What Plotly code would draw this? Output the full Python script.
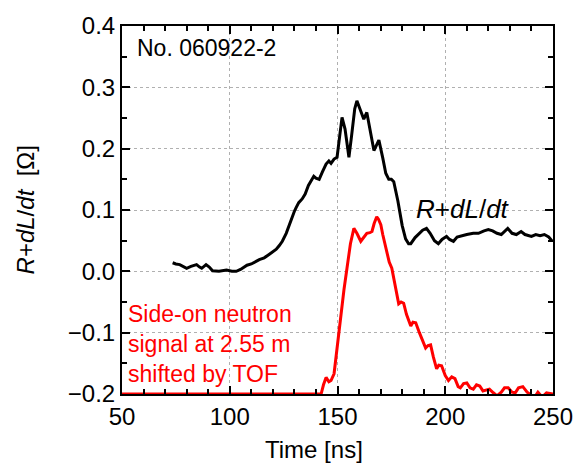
import plotly.graph_objects as go

# Black trace: R + dL/dt [Ohm] vs time [ns]
t_black = [73.5, 75, 76.8, 78, 80, 82, 84.6, 86, 87, 89, 90.5, 92, 95, 98.5, 101, 103, 105, 108, 110,
           113.7, 116, 118.4, 121.6, 123, 124.4, 126.2, 128, 130, 130.8, 132, 133.6, 135, 136.5, 137.8,
           139, 140, 141.5, 143, 144.7, 146, 147, 148.4, 149.8, 151, 152.1, 153.5, 155.3, 156.5, 158,
           159, 160.5, 162.2, 163.6, 165, 166.9, 168, 169.2, 171, 172.4, 173.8, 175, 176.1, 178, 180,
           181.6, 183, 184, 186, 187.6, 189.5, 191.3, 193, 195, 196.8, 198.5, 200.6, 202, 203.8, 205.5,
           207.5, 210, 213, 215.4, 218, 220, 222, 224, 226, 228, 229, 231, 233, 235.2, 237, 240, 242,
           244, 246, 248, 249.5]
v_black = [0.014, 0.012, 0.011, 0.009, 0.005, 0.008, 0.011, 0.007, 0.005, 0.011, 0.007, 0.001, 0.0,
           0.002, 0.0, 0.0, 0.003, 0.010, 0.012, 0.019, 0.022, 0.028, 0.036, 0.042, 0.049, 0.062, 0.080,
           0.098, 0.104, 0.112, 0.118, 0.126, 0.140, 0.149, 0.155, 0.152, 0.150, 0.162, 0.175, 0.180,
           0.176, 0.183, 0.186, 0.220, 0.251, 0.232, 0.186, 0.220, 0.265, 0.278, 0.265, 0.248, 0.259,
           0.235, 0.197, 0.205, 0.214, 0.185, 0.160, 0.150, 0.150, 0.146, 0.115, 0.075, 0.053, 0.045,
           0.045, 0.055, 0.061, 0.067, 0.070, 0.062, 0.050, 0.045, 0.052, 0.057, 0.052, 0.049, 0.056,
           0.058, 0.060, 0.062, 0.062, 0.066, 0.068, 0.066, 0.062, 0.060, 0.066, 0.070, 0.062, 0.060,
           0.065, 0.060, 0.057, 0.060, 0.058, 0.060, 0.056, 0.050]

# Red trace: side-on neutron signal (scaled, shifted by TOF)
t_red = [50, 142.4, 143.5, 144.7, 146, 147, 148.4, 150, 151.6, 153, 154.4, 156, 157.6, 159, 160.8, 162,
         163.6, 165, 166, 167, 168.2, 169, 170.1, 171, 172.4, 174, 175.2, 176.5, 178.4, 179.5, 180.7,
         182, 184, 185, 186.3, 188, 190.9, 192, 193.2, 194.5, 196, 197, 198.3, 200, 201.5, 203, 204.5,
         206, 207, 208.5, 210, 211.5, 213, 214.5, 216, 217.5, 219, 220.5, 222.3, 224, 226, 227.5,
         229.2, 231, 232.5, 234, 236, 238, 240, 241.5, 243, 245, 247, 249, 250]
v_red = [-0.2, -0.2, -0.185, -0.173, -0.180, -0.178, -0.167, -0.12, -0.065, -0.03, 0.005, 0.045, 0.070,
         0.062, 0.049, 0.055, 0.062, 0.063, 0.065, 0.078, 0.089, 0.085, 0.076, 0.060, 0.037, 0.015,
         0.005, -0.02, -0.053, -0.050, -0.052, -0.07, -0.089, -0.083, -0.084, -0.10, -0.125, -0.121,
         -0.12, -0.14, -0.159, -0.153, -0.154, -0.17, -0.178, -0.172, -0.175, -0.188, -0.190, -0.183,
         -0.182, -0.19, -0.192, -0.185, -0.187, -0.195, -0.193, -0.192, -0.198, -0.203, -0.197, -0.19,
         -0.190, -0.197, -0.198, -0.19, -0.188, -0.197, -0.202, -0.205, -0.197, -0.205, -0.198, -0.2,
         -0.2]

# Tick layout (major step, minor step)
x_range = [50, 250]
x_major, x_minor = 50, 10
y_range = [-0.2, 0.4]
y_major, y_minor = 0.1, 0.05

FONT = "Arial"

fig = go.Figure()
fig.add_trace(go.Scatter(x=t_black, y=v_black, mode="lines", line=dict(color="black", width=3)))
fig.add_trace(go.Scatter(x=t_red, y=v_red, mode="lines", line=dict(color="red", width=3)))

fig.update_xaxes(range=x_range, dtick=x_major,
                 showline=True, linecolor="black", linewidth=2, mirror="ticks",
                 ticks="inside", ticklen=8, tickwidth=2, tickcolor="black",
                 showgrid=True, gridcolor="#b0b0b0", griddash="dot", gridwidth=1,
                 tickfont=dict(family=FONT, size=24, color="black"),
                 minor=dict(ticks="inside", ticklen=5, tickwidth=2, dtick=x_minor, tickcolor="black",
                            showgrid=False, griddash="dot", gridcolor="#b0b0b0"))
fig.update_yaxes(range=y_range, dtick=y_major, tickformat=".1f",
                 showline=True, linecolor="black", linewidth=2, mirror="ticks",
                 ticks="inside", ticklen=8, tickwidth=2, tickcolor="black",
                 showgrid=True, gridcolor="#b0b0b0", griddash="dot", gridwidth=1,
                 zerolinecolor="#b0b0b0", zerolinewidth=1,
                 tickfont=dict(family=FONT, size=24, color="black"),
                 minor=dict(ticks="inside", ticklen=5, tickwidth=2, dtick=y_minor, tickcolor="black",
                            showgrid=False, griddash="dot", gridcolor="#b0b0b0"))
fig.update_xaxes(zeroline=False)
fig.update_yaxes(zeroline=False)

fig.update_layout(
    width=585, height=465,
    margin=dict(l=122, r=30, t=23, b=71),
    plot_bgcolor="white",
    showlegend=False,
    annotations=[
        dict(text="No. 060922-2", x=56, y=0.364, xref="x", yref="y",
             xanchor="left", yanchor="middle", showarrow=False,
             font=dict(family=FONT, size=23, color="black")),
        dict(text="<i>R</i>+<i>dL</i>/<i>dt</i>", x=185.3, y=0.102, xref="x", yref="y",
             xanchor="left", yanchor="middle", showarrow=False,
             font=dict(family=FONT, size=26, color="black")),
        dict(text="Side-on neutron<br>signal at 2.55 m<br>shifted by TOF", x=52.0, y=-0.118,
             xref="x", yref="y", xanchor="left", yanchor="middle", align="left", showarrow=False,
             font=dict(family=FONT, size=23, color="red")),
        dict(text="<i>R</i>+<i>dL</i>/<i>dt</i>  [Ω]", x=-0.224, y=0.5, xref="paper", yref="paper",
             textangle=-90, xanchor="center", yanchor="middle", showarrow=False,
             font=dict(family=FONT, size=24, color="black")),
        dict(text="Time [ns]", x=0.446, y=-0.15, xref="paper", yref="paper",
             xanchor="center", yanchor="middle", showarrow=False,
             font=dict(family=FONT, size=24, color="black")),
    ],
)

fig.write_html("out.html")
